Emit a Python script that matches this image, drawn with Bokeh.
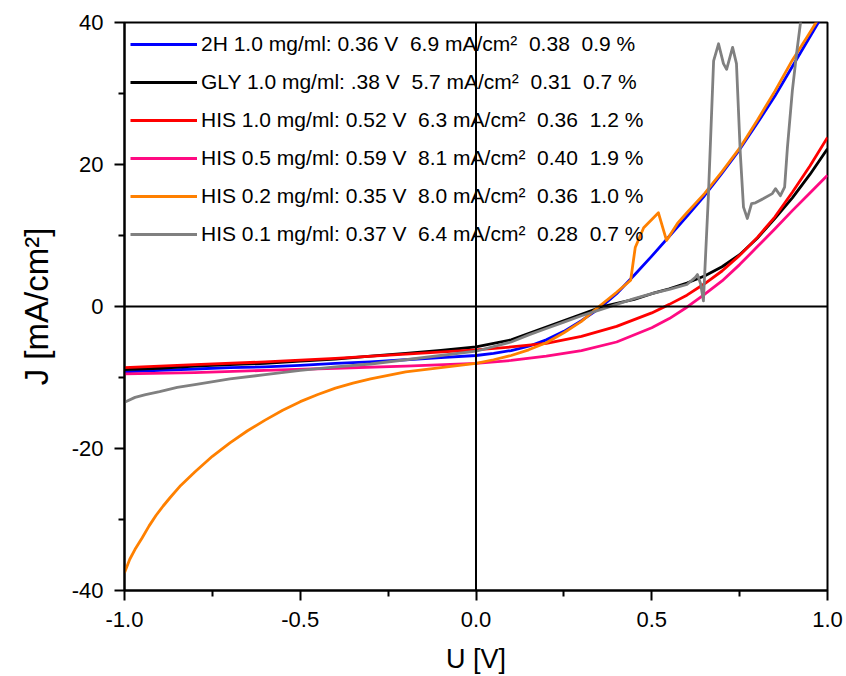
from bokeh.plotting import figure
from bokeh.models import Span, Legend, LegendItem, NumeralTickFormatter, FixedTicker
from bokeh.embed import file_html
from bokeh.resources import INLINE

# ---- data ----
x_2h = [-1.0, -0.9, -0.8, -0.7, -0.6, -0.5, -0.4, -0.3, -0.2, -0.1, 0.0, 0.05, 0.1, 0.15, 0.2, 0.25, 0.3,
        0.35, 0.4, 0.45, 0.5, 0.55, 0.6, 0.65, 0.7, 0.75, 0.8, 0.85, 0.9, 0.95, 0.98]
y_2h = [-9.2, -9.0, -8.8, -8.6, -8.5, -8.3, -8.0, -7.8, -7.5, -7.2, -6.9, -6.6, -6.2, -5.6, -4.7, -3.5, -2.0,
        -0.3, 1.8, 4.4, 7.1, 9.9, 12.7, 15.6, 18.8, 22.1, 25.8, 29.6, 33.8, 38.0, 40.5]

x_gly = [-1.0, -0.9, -0.8, -0.7, -0.6, -0.5, -0.4, -0.3, -0.2, -0.1, 0.0, 0.1, 0.2, 0.3, 0.36, 0.45, 0.5,
         0.55, 0.6, 0.65, 0.7, 0.75, 0.8, 0.85, 0.9, 0.95, 1.0]
y_gly = [-8.9, -8.7, -8.4, -8.2, -8.0, -7.7, -7.4, -7.0, -6.6, -6.2, -5.7, -4.7, -2.9, -1.1, 0.0, 1.0, 1.8,
         2.5, 3.3, 4.3, 5.6, 7.3, 9.6, 12.4, 15.3, 18.6, 22.2]

x_his10 = [-1.0, -0.8, -0.6, -0.4, -0.2, 0.0, 0.1, 0.2, 0.3, 0.4, 0.5, 0.55, 0.6, 0.65, 0.7, 0.75, 0.8,
           0.85, 0.9, 0.95, 1.0]
y_his10 = [-8.6, -8.2, -7.8, -7.3, -6.7, -6.1, -5.7, -5.2, -4.2, -2.8, -0.9, 0.3, 1.6, 3.2, 5.0, 7.2, 9.7,
           12.6, 16.1, 19.8, 23.8]

x_his05 = [-1.0, -0.8, -0.6, -0.4, -0.2, 0.0, 0.1, 0.2, 0.3, 0.4, 0.5, 0.55, 0.6, 0.65, 0.7, 0.75, 0.8,
           0.85, 0.9, 0.95, 1.0]
y_his05 = [-9.5, -9.3, -9.0, -8.7, -8.4, -8.0, -7.6, -7.0, -6.2, -5.0, -3.0, -1.7, -0.1, 1.7, 3.6, 5.9, 8.4,
           10.9, 13.5, 16.0, 18.5]

x_his02 = [-1.0, -0.985, -0.97, -0.95, -0.93, -0.91, -0.89, -0.87, -0.84, -0.8, -0.75, -0.7, -0.65, -0.6,
           -0.55, -0.5, -0.45, -0.4, -0.35, -0.3, -0.25, -0.2, -0.1, 0.0, 0.05, 0.1, 0.15, 0.2, 0.25, 0.3,
           0.35, 0.4, 0.44, 0.453, 0.477, 0.519, 0.542, 0.573, 0.6, 0.65, 0.7, 0.75, 0.8, 0.85, 0.9, 0.95,
           0.98]
y_his02 = [-37.5, -35.6, -34.2, -32.6, -30.9, -29.4, -28.1, -26.9, -25.2, -23.3, -21.1, -19.2, -17.5, -16.0,
           -14.6, -13.4, -12.4, -11.5, -10.8, -10.2, -9.7, -9.2, -8.6, -8.0, -7.5, -6.9, -6.1, -5.1, -3.7,
           -2.1, 0.0, 2.0, 3.7, 8.3, 11.1, 13.2, 9.3, 11.7, 13.2, 15.9, 19.0, 22.3, 26.2, 30.3, 34.7, 38.6,
           41.0]

x_his01 = [-1.0, -0.97, -0.94, -0.9, -0.85, -0.8, -0.7, -0.6, -0.5, -0.4, -0.3, -0.2, -0.1, 0.0, 0.1, 0.15,
           0.2, 0.25, 0.3, 0.35, 0.4, 0.45, 0.5, 0.55, 0.6, 0.624, 0.63, 0.639, 0.647, 0.661, 0.676, 0.69,
           0.704, 0.713, 0.73, 0.741, 0.752, 0.761, 0.772, 0.784, 0.795, 0.818, 0.843, 0.852, 0.866, 0.878,
           0.886, 0.9, 0.912, 0.923, 0.935]
y_his01 = [-13.5, -12.8, -12.4, -12.0, -11.4, -11.0, -10.2, -9.6, -9.0, -8.5, -8.1, -7.5, -6.9, -6.3, -5.0,
           -4.0, -3.1, -2.2, -1.3, -0.5, 0.3, 1.1, 1.8, 2.4, 3.1, 4.1, 4.5, 3.2, 0.8, 15.4, 34.6, 37.0,
           34.2, 33.4, 36.5, 34.2, 21.5, 14.0, 12.4, 14.5, 14.6, 15.2, 15.9, 16.6, 15.6, 16.8,
           22.4, 30.4, 35.6, 39.9, 46.0]

labels = [
    "2H 1.0 mg/ml: 0.36 V\u00a0 6.9 mA/cm\u00b2\u00a0 0.38\u00a0 0.9 %",
    "GLY 1.0 mg/ml: .38 V\u00a0 5.7 mA/cm\u00b2\u00a0 0.31\u00a0 0.7 %",
    "HIS 1.0 mg/ml: 0.52 V\u00a0 6.3 mA/cm\u00b2\u00a0 0.36\u00a0 1.2 %",
    "HIS 0.5 mg/ml: 0.59 V\u00a0 8.1 mA/cm\u00b2\u00a0 0.40\u00a0 1.9 %",
    "HIS 0.2 mg/ml: 0.35 V\u00a0 8.0 mA/cm\u00b2\u00a0 0.36\u00a0 1.0 %",
    "HIS 0.1 mg/ml: 0.37 V\u00a0 6.4 mA/cm\u00b2\u00a0 0.28\u00a0 0.7 %",
]
colors = ["#0000ff", "#000000", "#ff0000", "#ff0a82", "#ff8000", "#808080"]
series = [(x_2h, y_2h), (x_gly, y_gly), (x_his10, y_his10), (x_his05, y_his05),
          (x_his02, y_his02), (x_his01, y_his01)]

x_ticks = [-1.0, -0.5, 0.0, 0.5, 1.0]
y_ticks = [-40, -20, 0, 20, 40]

FONT = "Liberation Sans"

p = figure(width=846, height=676, output_backend="svg", toolbar_location=None,
           x_range=(-1.0, 1.0), y_range=(-40, 40),
           min_border_left=124, min_border_right=19, min_border_top=22, min_border_bottom=86)
p.xgrid.visible = False
p.ygrid.visible = False
p.outline_line_color = "black"
p.outline_line_width = 2
p.background_fill_color = "white"
p.border_fill_color = "white"

p.add_layout(Span(location=0, dimension="width", line_color="black", line_width=2))
p.add_layout(Span(location=0, dimension="height", line_color="black", line_width=2))

items = []
for (xs, ys), c, lab in zip(series, colors, labels):
    r = p.line(xs, ys, line_color=c, line_width=2.8, line_join="round")
    items.append(LegendItem(label=lab, renderers=[r]))

legend = Legend(items=items, location="top_left", margin=0, padding=6,
                glyph_width=67, glyph_height=32, label_height=32, spacing=6,
                label_standoff=4, label_text_font=FONT, label_text_font_size="21px",
                label_text_color="black", border_line_alpha=0, background_fill_alpha=0)
p.add_layout(legend)

for ax, ticks in ((p.xaxis[0], x_ticks), (p.yaxis[0], y_ticks)):
    ax.ticker = FixedTicker(ticks=ticks, minor_ticks=[(a + b) / 2 for a, b in zip(ticks[:-1], ticks[1:])])
    ax.axis_line_width = 2
    ax.major_tick_line_width = 2
    ax.minor_tick_line_width = 2
    ax.major_tick_out = 10
    ax.major_tick_in = 0
    ax.minor_tick_out = 6
    ax.minor_tick_in = 0
    ax.major_label_text_font = FONT
    ax.major_label_text_font_size = "22px"
    ax.major_label_text_color = "black"
    ax.axis_label_text_font = FONT
    ax.axis_label_text_font_style = "normal"
    ax.axis_label_text_color = "black"

p.xaxis[0].formatter = NumeralTickFormatter(format="0.0")
p.xaxis[0].axis_label = "U [V]"
p.xaxis[0].axis_label_text_font_size = "27px"
p.xaxis[0].major_label_standoff = 11
p.xaxis[0].axis_label_standoff = 14
p.yaxis[0].formatter = NumeralTickFormatter(format="0")
p.yaxis[0].axis_label = "J [mA/cm\u00b2]"
p.yaxis[0].axis_label_text_font_size = "33px"
p.yaxis[0].major_label_standoff = 11
p.yaxis[0].axis_label_standoff = 14

open("out.html", "w").write(file_html(p, INLINE))
